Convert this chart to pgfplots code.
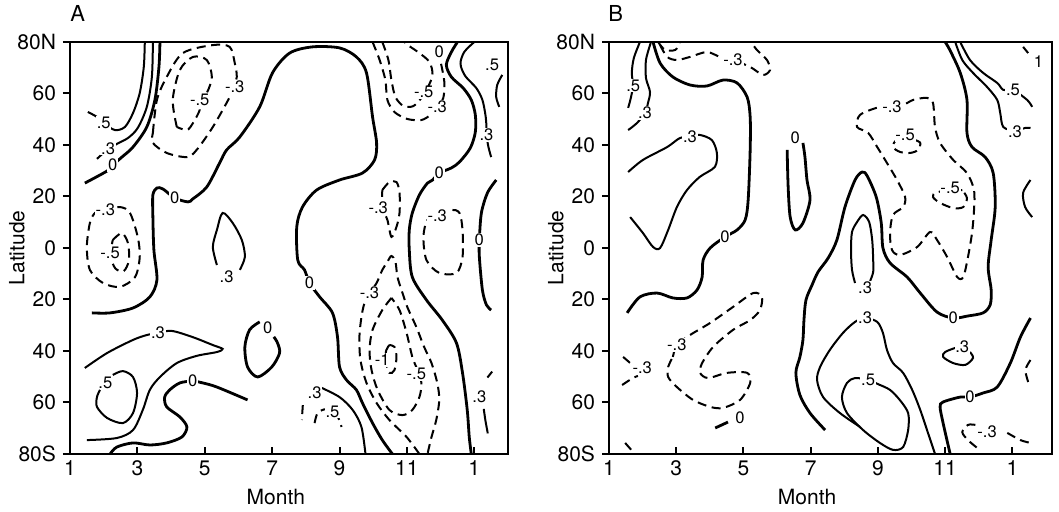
\documentclass[border=0pt]{standalone}
\usepackage{fontspec}
\setmainfont{TeX Gyre Heros}
\usepackage{pgfplots}
\pgfplotsset{compat=1.18}
\newcommand\ticks{\fontsize{10.5}{12}\selectfont}
\newcommand\lab{\fontsize{8.3}{9}\selectfont}

\pgfplotsset{
  panel/.style={
    scale only axis, height=206pt,
    ymin=-80, ymax=80, xmin=1,
    axis line style={line width=1.3pt},
    tick style={line width=1pt, black},
    major tick length=3.5pt,
    tick pos=left, xtick align=inside, ytick align=outside,
    xtick={1,3,5,7,9,11,13}, xticklabels={1,3,5,7,9,11,1},
    ytick={-80,-60,-40,-20,0,20,40,60,80},
    yticklabels={80S,60,40,20,0,20,40,60,80N},
    ticklabel style={font=\ticks},
    label style={font=\ticks},
    xlabel={Month}, ylabel={Latitude},
    axis on top,
  },
  z/.style={line width=1.4pt, smooth},
  p/.style={line width=1.0pt, smooth},
  n/.style={line width=1.0pt, smooth, dash pattern=on 4.5pt off 2.8pt},
  labs/.style={draw=none, nodes near coords, point meta=explicit symbolic,
    nodes near coords style={font=\lab, fill=white, inner sep=0.4pt, anchor=center, text=black}},
}

\begin{document}
\begin{tikzpicture}
\useasboundingbox (0,0) rectangle (529.5pt,256pt);
\node[anchor=base west, inner sep=0pt, font=\fontsize{11}{12}\selectfont] at (35pt,245pt) {A};
\node[anchor=base west, inner sep=0pt, font=\fontsize{11}{12}\selectfont] at (304pt,245pt) {B};

% ---------------- panel A ----------------
\begin{axis}[panel, at={(35pt,29pt)}, anchor=south west, width=219pt, xmax=14,
  xlabel style={at={(axis description cs:0.47,-0.104)}, anchor=center},
  ylabel style={at={(axis description cs:-0.121,0.5)}, anchor=center}]
\addplot[z] coordinates {(1.44,25.2)(2.10,29.9)(2.27,32.2)(2.54,35.3)(2.87,39.2)(3.28,47.0)(3.52,57.5)(3.64,70.3)(3.67,80)};
\addplot[p] coordinates {(1.80,34.6)(2.05,37.5)(2.39,40.4)(2.72,42.7)(3.01,46.6)(3.28,54.8)(3.43,66.4)(3.46,80)};
\addplot[p] coordinates {(1.53,52.8)(1.80,50.9)(2.00,48.5)(2.33,45.8)(2.63,47.0)(2.87,52.4)(3.07,60.2)(3.19,70.3)(3.22,80)};
\addplot[n] coordinates {(3.46,44.7)(3.58,57.5)(3.87,66.4)(4.35,75.7)(5.24,78.8)(5.74,78.1)(5.89,71.8)(5.95,66.4)(5.83,62.1)(5.74,58.6)(5.24,47.0)(4.76,38.1)(4.47,35.3)(3.87,36.9)(3.46,40.8)(3.46,44.7)};
\addplot[n] coordinates {(4.17,47.0)(4.05,57.5)(4.26,69.1)(4.65,74.2)(5.06,73.0)(5.21,66.4)(5.06,60.2)(4.85,57.5)(4.85,53.6)(4.65,48.5)(4.47,45.8)(4.17,47.0)};
\addplot[z] coordinates {(1.65,-25.2)(2.19,-25.2)(2.87,-23.3)(3.37,-19.0)(3.58,-12.4)(3.49,-0.8)(3.46,12.0)(3.46,20.6)(3.58,23.3)(3.76,22.9)(4.11,19.4)(4.50,17.9)(4.64,19.0)(5.06,23.7)(5.44,33.0)(5.65,38.1)(6.04,43.1)(6.63,54.8)(7.01,68.0)(7.52,75.7)(8.20,78.1)(9.00,77.7)(9.50,74.2)(9.80,68.0)(9.98,50.9)(10.10,40.8)(10.04,34.2)(9.68,29.1)(9.00,26.4)(8.32,22.5)(7.90,15.9)(7.73,8.2)(7.76,-4.7)(7.96,-8.5)(8.11,-13.6)(8.41,-19.0)(8.79,-25.2)(8.94,-34.6)(9.00,-46.2)(9.21,-51.3)(9.50,-55.1)(9.68,-60.2)(9.98,-68.0)(10.27,-74.6)(10.57,-80)};
\addplot[n] coordinates {(1.98,14.8)(2.48,15.9)(2.78,13.6)(3.01,4.3)(3.07,-3.5)(2.93,-11.3)(2.48,-15.1)(1.98,-13.6)(1.59,-8.5)(1.50,0.4)(1.59,9.7)(1.74,13.6)(1.98,14.8)};
\addplot[n] coordinates {(2.27,3.1)(2.54,5.8)(2.72,1.9)(2.75,-4.7)(2.60,-8.9)(2.35,-8.0)(2.20,-3.0)(2.27,3.1)};
\addplot[p] coordinates {(5.36,-6.6)(5.24,0.4)(5.36,7.0)(5.53,13.6)(5.83,9.7)(6.10,3.1)(6.19,-3.5)(6.04,-8.5)};
\addplot[p] coordinates {(1.44,-46.6)(2.10,-40.8)(2.87,-35.7)(3.28,-33.8)(3.61,-33.0)(4.02,-32.2)(4.64,-34.6)(5.24,-37.7)(5.53,-39.2)(5.36,-40.4)(4.76,-41.9)(4.17,-44.7)(3.67,-50.1)(3.37,-55.1)(3.16,-62.9)(2.87,-70.7)(2.39,-73.8)(1.50,-74.6)};
\addplot[p] coordinates {(1.89,-55.1)(1.80,-57.9)(1.80,-61.7)(2.10,-66.0)(2.57,-68.0)(2.87,-64.1)(2.99,-56.3)(2.87,-50.1)(2.57,-47.8)(2.27,-49.3)};
\addplot[z] coordinates {(2.19,-80)(2.39,-77.3)(2.87,-75.7)(3.37,-76.5)(3.87,-75.7)(4.32,-73.4)(4.47,-69.5)(4.26,-65.6)(3.87,-61.7)(3.81,-57.9)(3.96,-55.1)(4.26,-52.4)(4.64,-51.7)(4.94,-52.4)(5.36,-54.0)(6.27,-59.0)};
\addplot[z] coordinates {(6.63,-28.7)(6.33,-31.8)(6.19,-38.4)(6.27,-46.2)(6.57,-50.1)(6.99,-46.2)(7.22,-40.8)(7.16,-36.9)(7.05,-34.5)};
\addplot[p] coordinates {(8.45,-54.2)(9.00,-57.9)(9.39,-62.9)(9.65,-69.5)(9.77,-80)};
\addplot[n] coordinates {(8.26,-68.0)(8.35,-64.1)(8.60,-62.6)(8.90,-64.3)(9.06,-69.5)};
\addplot[n] coordinates {(7.91,-61.0)(7.88,-66.8)};
\addplot[z] coordinates {(12.50,80)(12.32,76.1)(12.17,71.1)(12.32,66.4)(12.67,62.1)(12.91,57.5)(13.03,51.7)(13.03,45.0)(12.88,38.8)(12.56,33.4)(12.32,31.1)(11.96,29.1)(11.76,26.4)(11.61,25.2)(11.37,20.6)(11.16,13.6)(11.07,7.0)(11.07,-0.8)(11.16,-11.3)(11.58,-20.2)(12.05,-28.0)(12.47,-36.9)(12.65,-48.5)(12.79,-62.9)(12.85,-73.4)(12.91,-80)};
\addplot[p] coordinates {(13.00,80)(12.70,76.1)(12.59,71.5)(12.73,66.8)(13.06,62.1)(13.24,57.5)(13.33,51.7)(13.36,47.4)(13.36,43.9)(13.42,39.2)(13.50,35.3)};
\addplot[p] coordinates {(13.83,67.2)(13.68,63.3)(13.65,58.6)(13.74,54.8)};
\addplot[n] coordinates {(9.98,80)(10.19,73.0)(10.36,65.2)(10.42,57.5)(10.63,52.8)(11.01,50.1)(11.43,49.7)(11.70,51.7)(11.90,54.8)(12.08,58.3)(12.11,64.5)(12.02,71.1)(11.96,74.2)};
\addplot[n] coordinates {(10.27,80)(10.45,73.0)(10.54,65.2)(10.66,58.6)(10.90,55.1)(11.19,55.1)(11.43,58.3)(11.61,62.1)(11.76,67.2)(11.67,72.2)(11.37,75.7)(11.07,78.4)(10.93,80)};
\addplot[n] coordinates {(10.27,22.5)(10.48,25.6)(10.69,25.6)(10.78,21.4)(10.78,13.6)(10.69,8.2)(10.54,4.3)(10.42,10.9)(10.27,15.9)(10.27,22.5)};
\addplot[n] coordinates {(11.96,12.5)(12.32,14.8)(12.56,13.6)(12.65,7.0)(12.65,-3.5)(12.47,-9.7)(11.96,-9.7)(11.58,-4.7)(11.49,4.3)(11.61,10.9)(11.96,12.5)};
\addplot[z] coordinates {(13.65,26.4)(13.39,21.4)(13.21,13.6)(13.15,3.1)(13.15,-3.5)(13.24,-16.3)(13.36,-22.1)(13.50,-24.1)};
\addplot[p] coordinates {(13.39,-50.3)(13.53,-48.0)};
\addplot[p] coordinates {(13.28,-62.5)(13.33,-67.0)(13.40,-72.0)};
\addplot[n] coordinates {(11.37,-80)(10.99,-73.4)(10.48,-66.8)(10.10,-60.2)(9.80,-52.4)(9.62,-43.5)(9.59,-34.6)(9.65,-26.8)(9.74,-21.4)(9.89,-17.5)(10.10,-13.6)(10.27,-8.5)(10.42,-5.4)(10.54,-3.1)(10.66,-5.4)(10.72,-11.3)(10.87,-17.5)(11.01,-22.9)(11.28,-30.7)(11.51,-38.4)(11.73,-44.7)(11.90,-52.4)(11.96,-59.0)(11.87,-66.8)(11.73,-73.4)(11.61,-80)};
\addplot[n] coordinates {(10.54,-19.4)(10.27,-24.1)(9.98,-31.8)(9.89,-39.6)(9.95,-47.4)(10.13,-55.1)(10.48,-62.9)(10.87,-64.9)(11.16,-62.9)(11.37,-57.9)(11.43,-52.4)(11.30,-47.0)(11.16,-42.3)(10.99,-33.0)(10.78,-24.1)(10.54,-19.4)};
\addplot[n] coordinates {(10.48,-37.7)(10.39,-39.6)(10.36,-43.5)(10.48,-48.5)(10.63,-47.4)(10.69,-42.3)(10.63,-38.4)(10.48,-37.7)};
\addplot[labs] table[meta=t, row sep=\\] {
x y t\\
2.00 48.6 .5\\
2.13 38.6 .3\\
2.27 32.2 0\\
5.89 62.5 -.3\\
4.85 57.5 -.5\\
4.11 19.6 0\\
2.05 15.0 -.3\\
2.19 -1.9 -.5\\
5.65 -11.0 .3\\
3.61 -33.0 .3\\
2.05 -52.2 .5\\
4.64 -51.7 0\\
6.87 -31.1 0\\
8.11 -13.6 0\\
8.26 -56.3 .3\\
8.79 -63.5 .5\\
9.89 -17.5 -.3\\
10.27 -43.5 -1\\
11.28 -49.0 -.5\\
10.15 15.5 -.3\\
11.90 12.5 -.3\\
11.96 29.1 0\\
13.15 3.1 0\\
13.15 -57.9 .3\\
13.36 43.9 .3\\
13.53 71.1 .5\\
11.90 54.8 -.3\\
11.50 60.5 -.5\\
11.96 76.1 0\\
};
\end{axis}

% ---------------- panel B ----------------
\begin{axis}[panel, at={(304.5pt,29pt)}, anchor=south west, width=221.5pt, xmax=14.18,
  xlabel style={at={(axis description cs:0.447,-0.104)}, anchor=center},
  ylabel style={at={(axis description cs:-0.120,0.5)}, anchor=center}]
\addplot[p] coordinates {(1.92,80)(1.74,73.8)(1.68,68.3)(1.71,62.9)(1.65,58.3)(1.57,54.4)};
\addplot[p] coordinates {(2.25,80)(2.10,73.0)(2.10,66.0)(2.22,60.6)(2.16,56.3)(2.07,52.4)(1.83,48.5)(1.57,45.8)};
\addplot[z] coordinates {(2.31,80)(2.52,71.8)(2.90,66.4)(3.41,63.3)(3.91,62.9)(4.39,65.2)(4.81,64.1)(5.11,58.6)(5.20,50.9)(5.20,38.1)(5.14,18.6)(5.05,10.9)(4.81,7.0)(4.45,4.3)(4.01,0.0)(3.80,-4.7)(3.77,-11.3)(3.62,-16.3)(3.32,-19.4)(2.90,-19.4)(2.43,-17.5)(1.92,-19.0)(1.54,-25.2)};
\addplot[n] coordinates {(2.52,78.8)(2.73,74.2)(3.02,73.0)(3.41,74.2)(3.91,76.1)(4.30,74.2)(4.69,73.0)(5.20,70.3)(5.58,67.2)(5.79,69.1)(5.70,73.0)(5.40,76.9)(5.25,79.6)};
\addplot[n] coordinates {(2.46,80)(2.67,76.9)(2.97,76.9)(3.11,79.5)};
\addplot[p] coordinates {(1.57,29.5)(2.01,34.2)(2.73,39.2)(3.11,42.7)(3.41,43.1)(3.70,43.9)(4.06,41.9)(4.21,36.9)(4.15,31.5)(3.70,27.6)(3.32,22.5)(3.02,15.9)(2.76,7.0)(2.52,0.0)(2.31,0.4)(2.01,5.8)(1.63,12.0)};
\addplot[z] coordinates {(6.30,38.1)(6.33,23.7)(6.39,12.0)(6.54,7.0)(6.77,9.7)(6.98,18.6)(6.89,26.4)(6.83,35.3)(6.77,40.8)};
\addplot[z] coordinates {(11.00,80)(11.14,76.9)(11.45,68.0)(11.65,57.5)(11.65,44.7)(11.80,39.2)(12.19,35.3)(12.43,29.1)(12.49,15.9)(12.37,3.1)(12.28,-7.4)(12.37,-16.3)(12.34,-22.1)(12.13,-25.2)(11.68,-26.4)(11.24,-27.2)(10.76,-24.9)(10.26,-17.5)(9.87,-11.3)(9.36,-5.8)(9.15,0.0)(9.10,9.7)(8.95,19.8)(8.68,28.0)(8.53,29.5)(8.32,26.4)(8.02,15.9)(7.78,3.1)(7.52,-3.9)(7.22,-9.3)(7.04,-14.4)(6.86,-20.2)(6.80,-28.0)(6.77,-35.7)(6.68,-42.3)(6.56,-48.5)(6.68,-57.1)(6.98,-64.1)(7.43,-70.7)};
\addplot[p] coordinates {(8.32,-13.6)(8.23,-8.5)(8.20,-0.8)(8.23,6.2)(8.38,10.1)(8.56,12.8)(8.74,10.1)(8.83,3.1)(8.86,-4.7)(8.86,-9.3)(8.77,-12.8)};
\addplot[p] coordinates {(8.47,-69.5)(7.87,-64.1)(7.37,-57.9)(7.19,-51.3)(7.28,-46.2)(7.57,-39.6)(7.96,-33.0)(8.32,-28.7)(8.62,-27.2)(8.98,-28.7)(9.15,-33.0)(9.27,-39.6)(9.45,-44.7)(9.75,-48.5)(10.02,-55.1)(10.26,-62.9)(10.49,-71.8)(10.70,-80)};
\addplot[p] coordinates {(9.06,-53.2)(8.71,-51.3)(8.32,-50.5)(8.08,-52.4)(7.93,-57.9)(8.08,-64.1)(8.56,-70.7)(9.06,-75.7)(9.45,-78.4)(9.75,-77.3)(9.90,-70.7)(9.90,-64.1)(9.65,-59.0)(9.36,-55.1)(9.06,-53.2)};
\addplot[z] coordinates {(11.15,-80)(10.94,-68.0)(10.85,-61.7)(10.94,-59.8)(11.45,-57.9)(11.74,-57.9)(12.13,-56.3)(12.55,-54.0)(12.94,-44.7)(13.24,-34.6)(13.54,-27.2)};
\addplot[p] coordinates {(11.30,-38.8)(11.00,-40.4)(10.94,-42.3)(11.24,-44.7)(11.60,-45.4)(11.83,-42.7)(11.74,-40.4)};
\addplot[n] coordinates {(11.90,-68.7)(11.68,-68.7)(11.51,-71.5)(11.68,-74.6)(11.96,-77.7)};
\addplot[n] coordinates {(12.85,-71.8)(13.24,-74.6)(13.54,-75.7)};
\addplot[n] coordinates {(13.54,-43.5)(13.39,-47.4)(13.48,-52.4)};
\addplot[p] coordinates {(13.54,26.4)(13.32,21.4)(13.38,15.9)(13.59,12.0)};
\addplot[p] coordinates {(11.30,80)(11.51,73.0)(11.83,68.0)(12.25,62.5)(12.55,57.5)(12.64,52.4)(12.73,47.0)(13.08,45.5)(13.38,46.6)(13.54,46.6)};
\addplot[p] coordinates {(11.45,80)(11.74,73.0)(12.13,68.0)(12.55,64.1)(12.73,61.4)(13.02,61.4)(13.44,57.5)(13.59,54.8)};
\addplot[p] coordinates {(13.32,78.1)(13.47,75.7)};
\addplot[n] coordinates {(9.42,54.8)(9.75,55.5)(10.05,57.5)(10.46,58.3)(10.64,56.3)(10.70,47.0)(10.85,40.8)(11.24,34.2)(11.65,29.1)(11.86,22.5)(11.86,14.8)(11.80,5.8)(11.68,-3.5)(11.54,-11.3)(11.36,-11.3)(11.06,-3.5)(10.76,3.1)(10.55,6.2)(10.17,0.4)(9.66,-2.7)(9.42,-0.8)(9.36,5.8)(9.45,12.8)(9.75,15.9)(9.81,19.8)(9.57,26.4)(9.27,33.0)(8.98,39.2)(8.71,44.7)(8.38,47.0)(8.47,51.7)(9.06,54.8)(9.42,54.8)};
\addplot[n] coordinates {(10.11,41.9)(9.57,41.9)(9.45,39.2)(9.66,37.3)(9.96,36.9)(10.20,38.1)(10.26,40.8)(10.11,41.9)};
\addplot[n] coordinates {(11.51,22.5)(10.76,21.7)(10.64,19.8)(10.85,17.5)(11.24,15.5)(11.54,15.9)(11.65,19.4)(11.51,22.5)};
\addplot[n] coordinates {(2.90,-42.3)(3.02,-37.7)(3.41,-33.8)(4.01,-29.1)(4.69,-22.9)(5.29,-17.5)(5.55,-19.0)(5.49,-24.1)(5.20,-28.0)(4.69,-31.8)(4.10,-38.4)(3.77,-44.7)(3.71,-48.5)(3.95,-50.5)(4.51,-48.5)(5.11,-48.5)(5.20,-52.4)(4.90,-59.0)(4.39,-62.1)(4.01,-61.7)(3.50,-59.0)(3.02,-54.0)(2.76,-50.1)(2.76,-46.2)(2.90,-42.3)};
\addplot[n] coordinates {(1.42,-42.3)(1.63,-44.7)(1.77,-46.6)};
\addplot[n] coordinates {(1.39,-53.2)(1.71,-50.5)(1.86,-49.7)};
\addplot[z] coordinates {(4.16,-69.9)(4.54,-67.6)};
\addplot[n] coordinates {(1.48,-75.7)(1.77,-80)};
\addplot[labs] table[meta=t, row sep=\\] {
x y t\\
1.72 63.0 .5\\
2.07 52.4 .3\\
4.69 73.0 -.3\\
3.41 43.1 .3\\
4.45 4.3 0\\
6.54 42.7 0\\
9.42 54.8 -.3\\
9.81 43.9 -.5\\
11.15 23.3 -.5\\
13.08 45.2 .3\\
13.02 61.4 .5\\
13.78 72.2 1\\
8.62 -15.5 .3\\
8.62 -27.2 .3\\
11.24 -27.2 0\\
11.51 -38.4 .3\\
8.71 -51.3 .5\\
11.74 -57.9 0\\
12.25 -71.5 -.3\\
3.02 -37.7 -.3\\
1.99 -46.6 -.3\\
4.90 -66.0 0\\
};
\end{axis}
\end{tikzpicture}
\end{document}
